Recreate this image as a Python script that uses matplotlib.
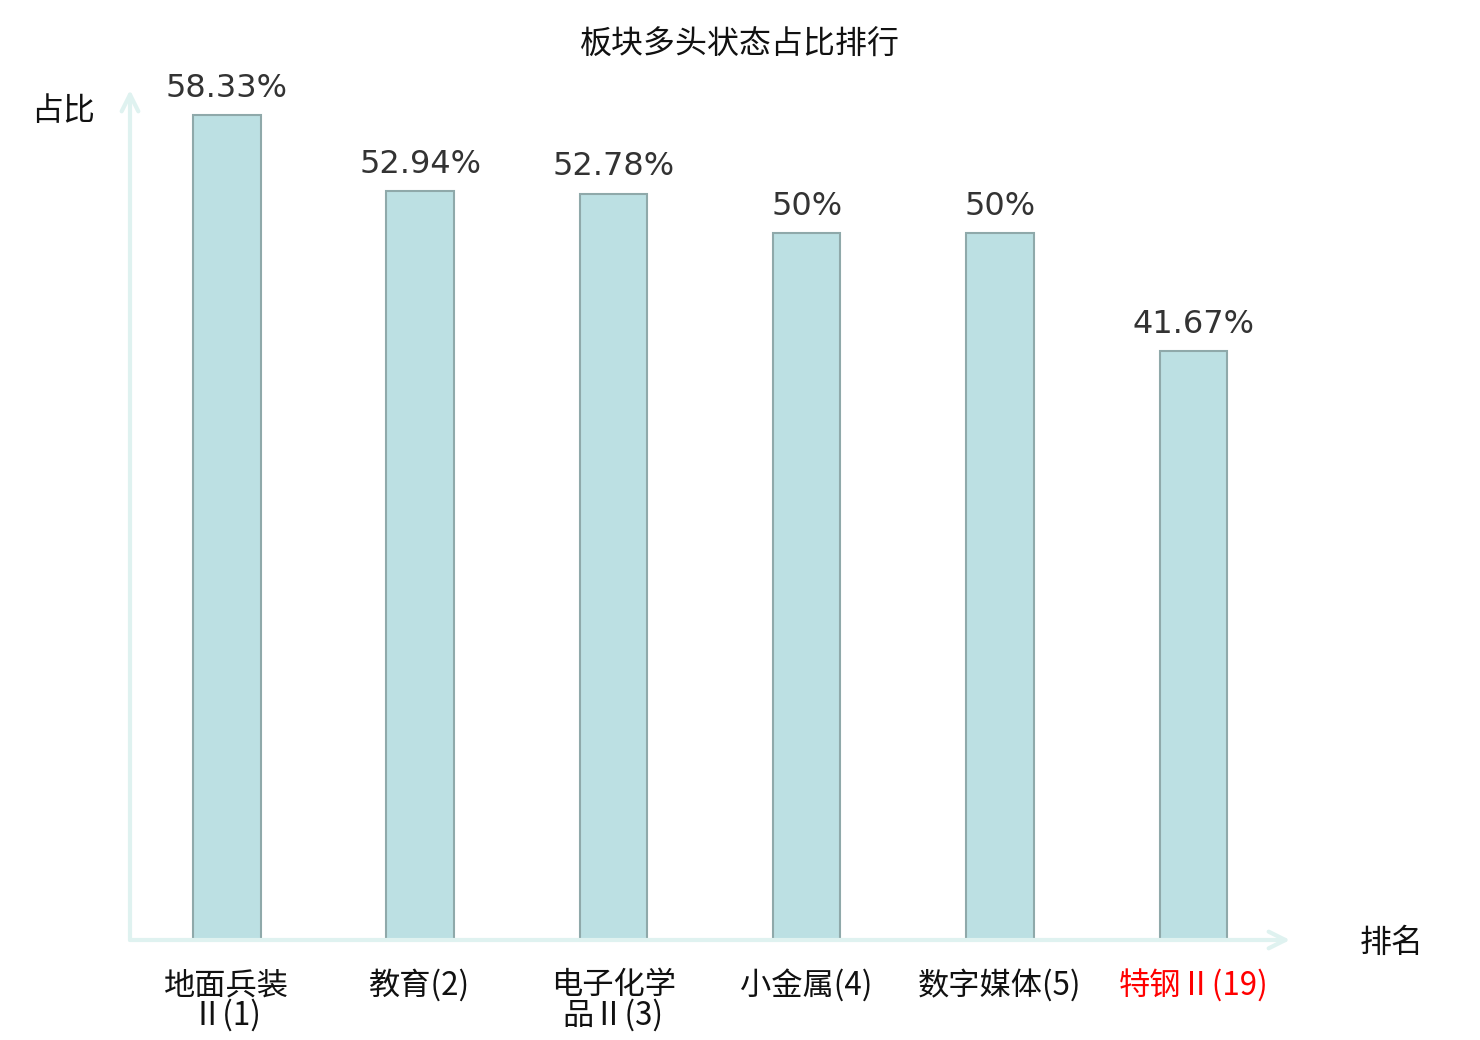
import matplotlib
matplotlib.use('Agg')
import matplotlib.pyplot as plt

plt.rcParams['font.family'] = ['Noto Sans CJK SC', 'DejaVu Sans']

categories = ['地面兵装\nⅡ(1)', '教育(2)', '电子化学\n品Ⅱ(3)', '小金属(4)', '数字媒体(5)', '特钢Ⅱ(19)']
values = [58.33, 52.94, 52.78, 50, 50, 41.67]
value_labels = ['58.33%', '52.94%', '52.78%', '50%', '50%', '41.67%']
label_colors = ['#111111', '#111111', '#111111', '#111111', '#111111', '#ff0000']

fig = plt.figure(figsize=(14.8, 10.4), dpi=100)
ax = fig.add_axes([130 / 1480, 100 / 1040, 1160 / 1480, 850 / 1040])

x = list(range(len(categories)))
ax.bar(x, values, width=0.35, color='#bce0e3', edgecolor='#8fa9aa', linewidth=1.5)

for xi, v, lab in zip(x, values, value_labels):
    ax.annotate(lab, (xi, v), xytext=(0, 8), textcoords='offset points',
                ha='center', va='bottom', fontsize=23, color='#333333',
                family='DejaVu Sans')

ax.set_xlim(-0.5, 5.5)
ax.set_ylim(0, 60.1)
ax.set_xticks(x)
ax.set_xticklabels(categories, fontsize=22.5, linespacing=0.9)
for t, c in zip(ax.get_xticklabels(), label_colors):
    t.set_color(c)
ax.tick_params(axis='x', length=0, pad=21)
ax.set_yticks([])
for s in ax.spines.values():
    s.set_visible(False)

# axis arrows
arrow_col = '#dff2f0'
ax.annotate('', xy=(1.0, 0), xytext=(0, 0), xycoords='axes fraction',
            arrowprops=dict(arrowstyle='->', color=arrow_col, lw=3,
                            mutation_scale=30, shrinkA=0, shrinkB=0))
ax.annotate('', xy=(0, 1.0), xytext=(0, 0), xycoords='axes fraction',
            arrowprops=dict(arrowstyle='->', color=arrow_col, lw=3,
                            mutation_scale=30, shrinkA=0, shrinkB=0))

fig.text(1392 / 1480, 1 - 943 / 1040, '排名', ha='center', va='center', fontsize=23, color='#111111')
fig.text(63 / 1480, 1 - 111 / 1040, '占比', ha='center', va='center', fontsize=23, color='#111111')
fig.text(740 / 1480, 1 - 45 / 1040, '板块多头状态占比排行', ha='center', va='center', fontsize=23, color='#111111')

fig.savefig('out.png', dpi=100)
